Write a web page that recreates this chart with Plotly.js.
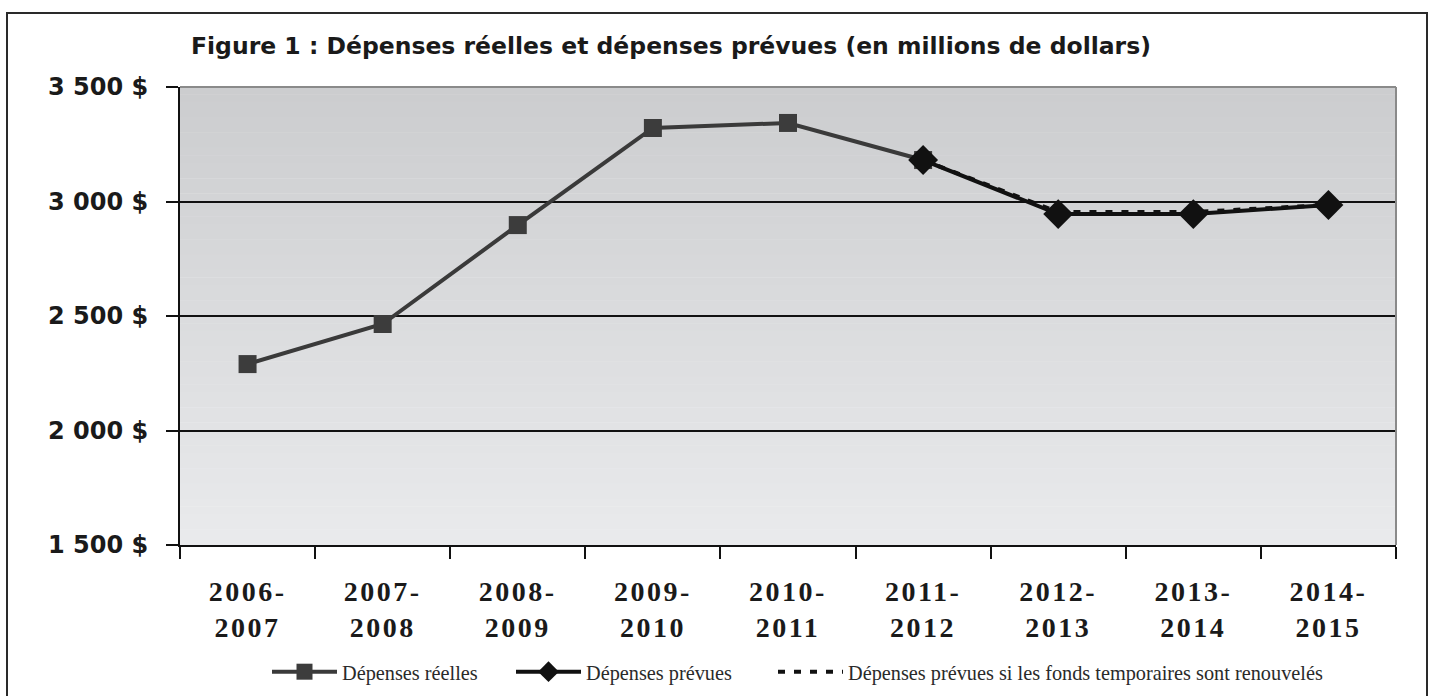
<!DOCTYPE html>
<html>
<head>
<meta charset="utf-8">
<script src="https://cdn.plot.ly/plotly-3.0.1.min.js"></script>
<style>
html,body{margin:0;padding:0;background:#fff;}
#chart{width:1434px;height:696px;}
.xtick text{letter-spacing:2.5px;}
</style>
</head>
<body>
<div id="chart"></div>
<script>
// ---- data ----
const years = ["2006-<br>2007","2007-<br>2008","2008-<br>2009","2009-<br>2010","2010-<br>2011","2011-<br>2012","2012-<br>2013","2013-<br>2014","2014-<br>2015"];
const reellesYears = years.slice(0, 6);
const reelles = [2290, 2465, 2897, 3321, 3343, 3181];
const prevuesYears = years.slice(5);
const prevues = [3181, 2945, 2945, 2985];
const renouvelesYears = years.slice(5);
const renouveles = [3181, 2954, 2954, 2985];
const yTicks = [1500, 2000, 2500, 3000, 3500];
const yTickText = ["1 500 $", "2 000 $", "2 500 $", "3 000 $", "3 500 $"];

// ---- background gradient strips ----
const shapes = [];
const N = 60;
const gradTop = [204, 205, 207], gradBot = [233, 234, 236];
for (let i = 0; i < N; i++) {
  const t = i / (N - 1);
  const c = gradTop.map((v, k) => Math.round(v + (gradBot[k] - v) * t));
  shapes.push({type: 'rect', xref: 'paper', yref: 'paper', x0: 0, x1: 1,
    y0: 1 - (i + 1) / N, y1: 1 - i / N + 0.001, line: {width: 0},
    fillcolor: `rgb(${c[0]},${c[1]},${c[2]})`, layer: 'below'});
}
// top & right border of plot area
shapes.push({type: 'line', xref: 'paper', yref: 'paper', x0: 0, x1: 1, y0: 1, y1: 1, line: {color: '#8a8a8a', width: 2}, layer: 'above'});
shapes.push({type: 'line', xref: 'paper', yref: 'paper', x0: 1, x1: 1, y0: 0, y1: 1, line: {color: '#8a8a8a', width: 2}, layer: 'above'});
// outer frame
const W = 1434, H = 696, L = 180, R = 38, T = 87, B = 151;
const pw = W - L - R, ph = H - T - B;
shapes.push({type: 'rect', xref: 'paper', yref: 'paper',
  x0: (7 - L) / pw, x1: (1427 - L) / pw, y0: -(H + 10 - T - ph) / ph, y1: 1 + (T - 13) / ph,
  line: {color: '#2a2a2a', width: 2}, fillcolor: 'rgba(0,0,0,0)', layer: 'below'});

const traces = [
  {x: reellesYears, y: reelles, name: 'Dépenses réelles', type: 'scatter', mode: 'lines+markers', legend: 'legend',
   line: {color: '#3a3a3a', width: 4}, marker: {symbol: 'square', size: 18, color: '#3c3c3c'}},
  {x: renouvelesYears, y: renouveles, name: 'Dépenses prévues si les fonds temporaires sont renouvelés', type: 'scatter', mode: 'lines', legend: 'legend3',
   line: {color: '#111', width: 4, dash: '7px,9px'}},
  {x: prevuesYears, y: prevues, name: 'Dépenses prévues', type: 'scatter', mode: 'lines+markers', legend: 'legend2',
   line: {color: '#111', width: 4}, marker: {symbol: 'diamond', size: 23, color: '#111'}}
];

function legendAt(px) {
  return {orientation: 'h', x: px / W, xref: 'container', xanchor: 'left', y: 1 - 672 / H, yref: 'container', yanchor: 'middle',
    font: {family: 'Liberation Serif', size: 20.3, color: '#2a2a2a'}, bgcolor: 'rgba(0,0,0,0)', itemwidth: 65};
}

const layout = {
  width: W, height: H,
  margin: {l: L, r: R, t: T, b: B, pad: 0},
  paper_bgcolor: '#fff', plot_bgcolor: 'rgba(0,0,0,0)',
  title: {text: 'Figure 1 : Dépenses réelles et dépenses prévues (en millions de dollars)',
    font: {family: 'DejaVu Sans', size: 23.5, color: '#1a1a1a', weight: 'bold'},
    x: 191 / W, xanchor: 'left', y: 1 - 46 / H, yanchor: 'middle'},
  xaxis: {type: 'category', categoryorder: 'array', categoryarray: years, range: [-0.5, 8.5],
    showline: true, linecolor: '#111', linewidth: 2, showgrid: false,
    ticks: 'outside', tickson: 'boundaries', ticklen: 12, tickwidth: 2, tickcolor: '#111',
    tickfont: {family: 'Liberation Serif', size: 28, color: '#1a1a1a', weight: 'bold'}, ticklabelstandoff: 20},
  yaxis: {range: [1500, 3500], tickvals: yTicks, ticktext: yTickText,
    showline: true, linecolor: '#111', linewidth: 2, showgrid: true, gridcolor: '#111', gridwidth: 2,
    zeroline: false, ticks: 'outside', ticklen: 12, tickwidth: 2, tickcolor: '#111',
    tickfont: {family: 'DejaVu Sans', size: 24, color: '#1a1a1a', weight: 'bold'}, ticklabelstandoff: 13},
  showlegend: true,
  legend: legendAt(267),
  legend2: legendAt(511),
  legend3: legendAt(773),
  shapes: shapes
};

Plotly.newPlot('chart', traces, layout, {displayModeBar: false, staticPlot: true});
</script>
</body>
</html>
